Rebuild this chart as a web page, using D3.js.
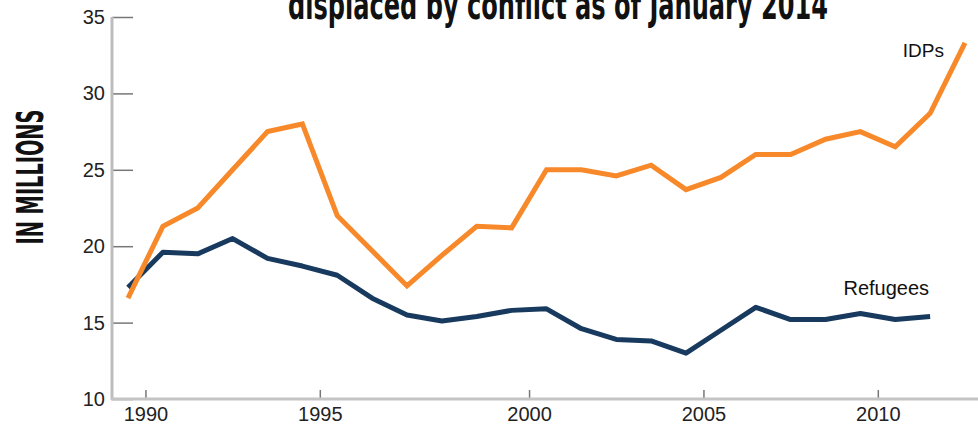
<!DOCTYPE html>
<html>
<head>
<meta charset="utf-8">
<script src="https://cdn.jsdelivr.net/npm/d3@7"></script>
<style>
  body { margin: 0; background: #fff; }
  svg { display: block; }
</style>
</head>
<body>
<div id="chart"></div>
<script>
// data (millions of people), one point per year
var years = [1989, 1990, 1991, 1992, 1993, 1994, 1995, 1996, 1997, 1998, 1999, 2000,
  2001, 2002, 2003, 2004, 2005, 2006, 2007, 2008, 2009, 2010, 2011, 2012, 2013];
var idps = [16.6, 21.3, 22.5, 25.0, 27.5, 28.0, 22.0, 19.7, 17.4, 19.4, 21.3, 21.2,
  25.0, 25.0, 24.6, 25.3, 23.7, 24.5, 26.0, 26.0, 27.0, 27.5, 26.5, 28.7, 33.3];
var refugees = [17.3, 19.6, 19.5, 20.5, 19.2, 18.7, 18.1, 16.6, 15.5, 15.1, 15.4, 15.8,
  15.9, 14.6, 13.9, 13.8, 13.0, 14.5, 16.0, 15.2, 15.2, 15.6, 15.2, 15.4];
var yTicks = [10, 15, 20, 25, 30, 35];
// the printed x ticks sit between data years
var xTickYears = [1989.5, 1994.5, 2000.5, 2005.5, 2010.5];
var xTickLabels = ["1990", "1995", "2000", "2005", "2010"];

var width = 978, height = 425;

var svg = d3.select("#chart").append("svg")
  .attr("width", width)
  .attr("height", height);

var x = d3.scaleLinear().domain([1989, 2013]).range([128, 965]);
var y = d3.scaleLinear().domain([10, 35]).range([399, 17]);

// title (top is cut off in the original)
svg.append("text")
  .attr("x", 288).attr("y", 19)
  .attr("textLength", 540)
  .attr("lengthAdjust", "spacingAndGlyphs")
  .style("font-family", "'DejaVu Sans Condensed', 'DejaVu Sans', sans-serif")
  .style("font-weight", "bold")
  .style("font-size", "40px")
  .attr("fill", "#111")
  .text("displaced by conflict as of January 2014");

// y label
svg.append("text")
  .attr("transform", "translate(43,177) rotate(-90)")
  .attr("text-anchor", "middle")
  .attr("textLength", 135)
  .attr("lengthAdjust", "spacingAndGlyphs")
  .style("font-family", "'DejaVu Sans Condensed', 'DejaVu Sans', sans-serif")
  .style("font-weight", "bold")
  .style("font-size", "38px")
  .attr("fill", "#111")
  .text("IN MILLIONS");

// y axis
var yAxis = svg.append("g")
  .attr("transform", "translate(112,0)")
  .call(d3.axisRight(y).tickValues(yTicks).tickSize(21).tickFormat(d3.format("d")));
yAxis.select(".domain").remove();
yAxis.selectAll(".tick line").attr("stroke", "#777").attr("stroke-width", 1.5);
yAxis.selectAll(".tick text")
  .attr("x", -7)
  .attr("text-anchor", "end")
  .style("font-family", "'Liberation Sans', Arial, sans-serif")
  .style("font-size", "20px")
  .attr("fill", "#222");

svg.append("line")
  .attr("x1", 112).attr("x2", 112)
  .attr("y1", y(35)).attr("y2", y(10) + 1)
  .attr("stroke", "#bdbdbd").attr("stroke-width", 3);

// x axis
var xAxis = svg.append("g")
  .attr("transform", "translate(0," + y(10) + ")")
  .call(d3.axisBottom(x).tickValues(xTickYears).tickSize(-9)
    .tickFormat(function (d, i) { return xTickLabels[i]; }));
xAxis.select(".domain").remove();
xAxis.selectAll(".tick line").attr("stroke", "#777").attr("stroke-width", 1.5);
xAxis.selectAll(".tick text")
  .attr("y", 8)
  .attr("dy", "0.71em")
  .style("font-family", "'Liberation Sans', Arial, sans-serif")
  .style("font-size", "20px")
  .attr("fill", "#222");

svg.append("line")
  .attr("x1", 111).attr("x2", width)
  .attr("y1", y(10)).attr("y2", y(10))
  .attr("stroke", "#c4c4c4").attr("stroke-width", 3);

// lines
var line = d3.line()
  .x(function (d, i) { return x(years[i]); })
  .y(function (d) { return y(d); });

svg.append("path")
  .datum(refugees)
  .attr("fill", "none")
  .attr("stroke", "#183a5e")
  .attr("stroke-width", 5)
  .attr("stroke-linejoin", "round")
  .attr("d", line);

svg.append("path")
  .datum(idps)
  .attr("fill", "none")
  .attr("stroke", "#f7892a")
  .attr("stroke-width", 5)
  .attr("stroke-linejoin", "miter")
  .attr("d", line);

// series labels
svg.append("text")
  .attr("x", x(years[idps.length - 1]) - 21)
  .attr("y", y(idps[idps.length - 1]) + 14)
  .attr("text-anchor", "end")
  .style("font-family", "'Liberation Sans', Arial, sans-serif")
  .style("font-size", "19px")
  .attr("fill", "#111")
  .text("IDPs");

svg.append("text")
  .attr("x", x(years[refugees.length - 1]) - 1)
  .attr("y", y(refugees[refugees.length - 1]) - 21)
  .attr("text-anchor", "end")
  .style("font-family", "'Liberation Sans', Arial, sans-serif")
  .style("font-size", "20px")
  .attr("fill", "#111")
  .text("Refugees");
</script>
</body>
</html>
